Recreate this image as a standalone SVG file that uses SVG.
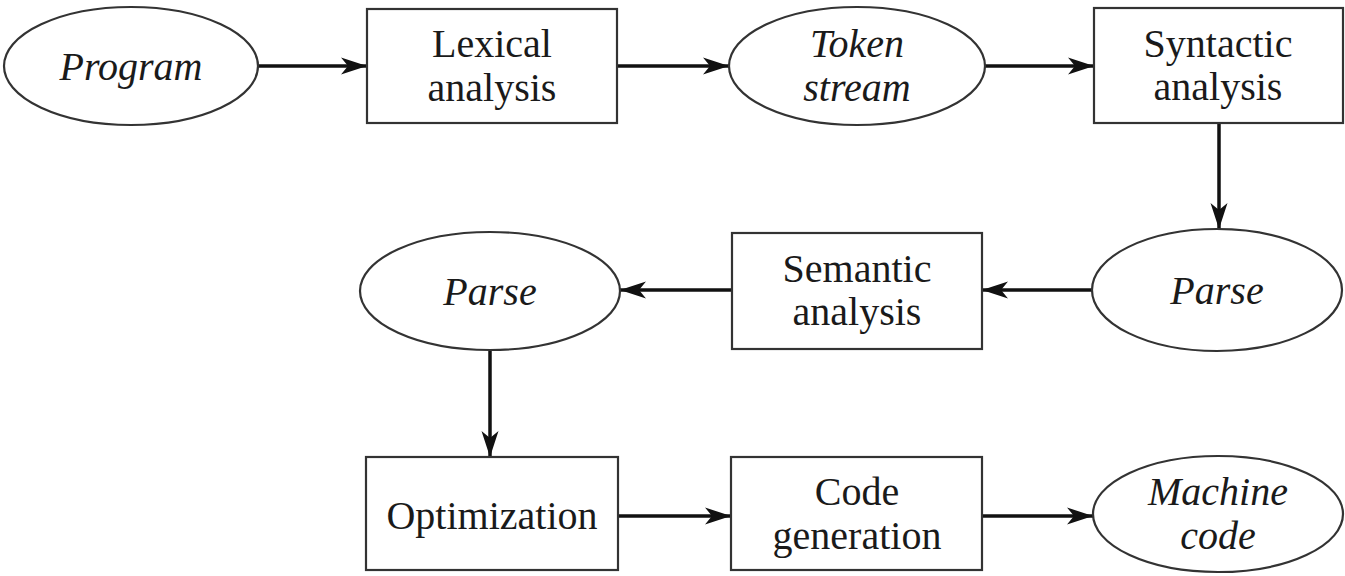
<svg xmlns="http://www.w3.org/2000/svg" width="1345" height="576" viewBox="0 0 1345 576">
<defs>
<marker id="arr" markerUnits="userSpaceOnUse" markerWidth="28" markerHeight="20" refX="26" refY="10" orient="auto">
<path d="M0,1.5 L26,10 L0,18.5 L7,10 z" fill="#111"/>
</marker>
</defs>
<rect width="1345" height="576" fill="#fff"/>
<g id="connectors" stroke="#111" stroke-width="3.5" fill="none" marker-end="url(#arr)">
<line x1="258" y1="66" x2="367" y2="66"/>
<line x1="617" y1="66" x2="729" y2="66"/>
<line x1="985" y1="66" x2="1094" y2="66"/>
<line x1="1219" y1="123" x2="1219" y2="229"/>
<line x1="1092" y1="290" x2="982" y2="290"/>
<line x1="732" y1="290" x2="620" y2="290"/>
<line x1="490" y1="350" x2="490" y2="457"/>
<line x1="618" y1="516" x2="731" y2="516"/>
<line x1="982" y1="516" x2="1093" y2="516"/>
</g>
<g fill="#fff" stroke="#333" stroke-width="2.2">
<ellipse id="program-shape" cx="131" cy="66" rx="127" ry="59"/>
<rect id="lexical-shape" x="367" y="9" width="250" height="114"/>
<ellipse id="token-shape" cx="857" cy="66" rx="128" ry="59"/>
<rect id="syntactic-shape" x="1094" y="8" width="249" height="115"/>
<ellipse id="parse-right-shape" cx="1217" cy="290" rx="125" ry="61"/>
<rect id="semantic-shape" x="732" y="233" width="250" height="116"/>
<ellipse id="parse-left-shape" cx="490" cy="291" rx="130" ry="59"/>
<rect id="optimization-shape" x="366" y="457" width="252" height="113"/>
<rect id="codegen-shape" x="731" y="457" width="251" height="113"/>
<ellipse id="machine-shape" cx="1218" cy="514" rx="125" ry="58"/>
</g>
<g font-family="Liberation Serif, Tinos, Times New Roman, serif" font-size="40" fill="#1a1a1a" text-anchor="middle">
<g id="program"><text font-style="italic" x="131" y="80">Program</text></g>
<g id="lexical"><text x="492" y="57">Lexical</text><text x="492" y="101">analysis</text></g>
<g id="token"><text font-style="italic" x="857" y="57">Token</text><text font-style="italic" x="857" y="101">stream</text></g>
<g id="syntactic"><text x="1218" y="57">Syntactic</text><text x="1218" y="100">analysis</text></g>
<g id="parse-right"><text font-style="italic" x="1217" y="304">Parse</text></g>
<g id="semantic"><text x="857" y="282">Semantic</text><text x="857" y="325">analysis</text></g>
<g id="parse-left"><text font-style="italic" x="490" y="305">Parse</text></g>
<g id="optimization"><text x="492" y="529">Optimization</text></g>
<g id="codegen"><text x="857" y="505">Code</text><text x="857" y="549">generation</text></g>
<g id="machine"><text font-style="italic" x="1218" y="505">Machine</text><text font-style="italic" x="1218" y="549">code</text></g>
</g>
</svg>
